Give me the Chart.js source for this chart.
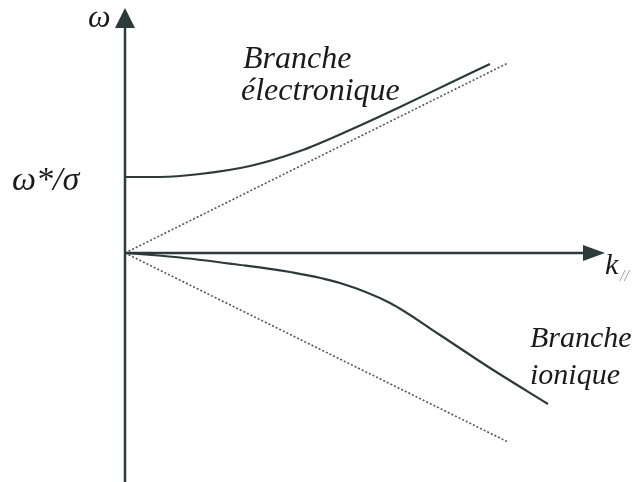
<!DOCTYPE html>
<html>
<head>
<meta charset="utf-8">
<script src="https://cdn.jsdelivr.net/npm/chart.js@4.4.0/dist/chart.umd.min.js"></script>
<style>
  body { margin: 0; background: #fff; }
  .wrap { width: 637px; height: 482px; position: relative; }
</style>
</head>
<body>
<div class="wrap"><canvas id="disp"></canvas></div>
<script>
// k (x) and omega (y), arbitrary units
const electronK = [0, 0.35, 0.75, 1.25, 1.75, 2.25, 2.75, 3.25, 3.65];
const electronW = [0.76, 0.76, 0.79, 0.87, 1.02, 1.23, 1.46, 1.70, 1.89];
const ionK = [0, 0.5, 1.08, 1.65, 2.15, 2.65, 3.15, 3.65, 4.23];
const ionW = [0, -0.04, -0.11, -0.19, -0.30, -0.50, -0.82, -1.15, -1.51];
const asymK = [0, 3.83];
const asymUpW = [0, 1.90];
const asymDownW = [0, -1.89];

const ink = '#2d3a3a'

function toPoints(xs, ys) {
  return xs.map((x, i) => ({ x: x, y: ys[i] }))
}

function lineSet(xs, ys, dotted) {
  return {
    data: toPoints(xs, ys),
    showLine: true,
    borderColor: dotted ? '#555' : ink,
    borderWidth: dotted ? 1.6 : 2.2,
    borderDash: dotted ? [2, 2] : [],
    pointRadius: 0,
    cubicInterpolationMode: dotted ? 'default' : 'monotone',
    fill: false
  }
}

// axes with arrows + labels, placed through the scales
const axesPlugin = {
  id: 'axesArrows',
  afterDatasetsDraw(chart) {
    const ctx = chart.ctx
    const xs = chart.scales.x
    const ys = chart.scales.y
    const ox = xs.getPixelForValue(0)
    const oy = ys.getPixelForValue(0)
    const xEnd = xs.getPixelForValue(4.80)
    const yTop = ys.getPixelForValue(2.45)
    const yBot = ys.getPixelForValue(-2.29)
    ctx.save()
    ctx.strokeStyle = ink
    ctx.fillStyle = ink
    ctx.lineWidth = 2.5
    ctx.beginPath()
    ctx.moveTo(ox, yBot)
    ctx.lineTo(ox, yTop + 18)
    ctx.moveTo(ox, oy)
    ctx.lineTo(xEnd - 20, oy)
    ctx.stroke()
    // arrow heads
    ctx.beginPath()
    ctx.moveTo(ox, yTop)
    ctx.lineTo(ox - 10, yTop + 20)
    ctx.lineTo(ox + 10, yTop + 20)
    ctx.closePath()
    ctx.fill()
    ctx.beginPath()
    ctx.moveTo(xEnd, oy)
    ctx.lineTo(xEnd - 22, oy - 8)
    ctx.lineTo(xEnd - 22, oy + 8)
    ctx.closePath()
    ctx.fill()

    ctx.fillStyle = '#1a1a1a'
    ctx.textBaseline = 'alphabetic'
    ctx.textAlign = 'left'
    ctx.font = 'italic 32px "Liberation Serif"'
    ctx.fillText('Branche', 243, 68)
    ctx.fillText('électronique', 241, 100)
    ctx.font = 'italic 30px "Liberation Serif"'
    ctx.fillText('Branche', 530, 347)
    ctx.fillText('ionique', 530, 384)
    ctx.font = 'italic 34px "Liberation Serif"'
    ctx.fillText('\u03c9*/\u03c3', 12, 190)
    ctx.font = 'italic 32px "Liberation Serif"'
    ctx.fillText('\u03c9', 88, 27)
    ctx.font = 'italic 30px "Liberation Serif"'
    ctx.fillText('k', 605, 274)
    ctx.fillStyle = '#9a9a9a'
    ctx.font = 'italic 16px "Liberation Serif"'
    ctx.fillText('//', 620, 281)
    ctx.restore()
  }
}

new Chart(document.getElementById('disp'), {
  type: 'scatter',
  data: {
    datasets: [
      lineSet(electronK, electronW, false),
      lineSet(ionK, ionW, false),
      lineSet(asymK, asymUpW, true),
      lineSet(asymK, asymDownW, true)
    ]
  },
  options: {
    responsive: true,
    maintainAspectRatio: false,
    animation: false,
    layout: { padding: 0 },
    plugins: { legend: { display: false }, tooltip: { enabled: false } },
    scales: {
      x: { type: 'linear', display: false, min: -1.25, max: 5.12 },
      y: { type: 'linear', display: false, min: -2.29, max: 2.53 }
    }
  },
  plugins: [axesPlugin]
});
</script>
</body>
</html>
